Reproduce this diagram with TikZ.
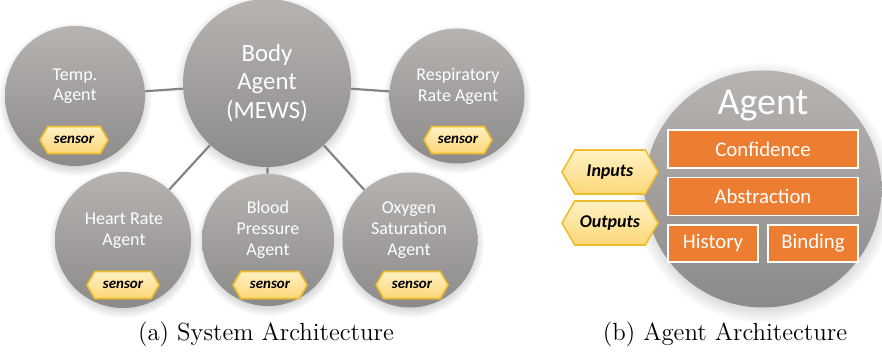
\documentclass[tikz,border=0pt]{standalone}
\usepackage{fontspec}
\newfontfamily\carlito{Carlito}
\usetikzlibrary{shapes.symbols, shadows, positioning}

\definecolor{AgentTop}{HTML}{B6B3B1}
\definecolor{AgentBot}{HTML}{8D8B8A}
\definecolor{LinkGray}{HTML}{858483}
\definecolor{SensorTop}{HTML}{FFF1C4}
\definecolor{SensorBot}{HTML}{FDD778}
\definecolor{SensorLine}{HTML}{EFBE2C}
\definecolor{PartOrange}{HTML}{ED7D31}

\tikzset{
    agent/.style={circle, inner sep=0pt, top color=AgentTop, bottom color=AgentBot,
        circular drop shadow={shadow xshift=0pt, shadow yshift=-1.5pt, opacity=0.35}},
    agentlabel/.style={text=white, align=center, font=\carlito\fontsize{9}{10.5}\selectfont},
    sensorbox/.style={signal, signal to=east and west, signal pointer angle=120,
        draw=SensorLine, thick, top color=SensorTop, bottom color=SensorBot, inner sep=0pt,
        font=\carlito\bfseries\itshape\fontsize{7.5}{9}\selectfont},
    link/.style={draw=LinkGray, line width=1.1pt},
    part/.style={draw=white, line width=0.6pt, fill=PartOrange, text=white, inner sep=0pt,
        font=\carlito\fontsize{10.4}{12}\selectfont},
    caption/.style={font=\fontsize{12.4}{14}\selectfont}
}

\begin{document}
\begin{tikzpicture}[x=0.5pt, y=-0.5pt]
    \useasboundingbox (0, 0) rectangle (882, 356);

    % (a) system architecture
    \node (body) at (267, 83)[agent, minimum size=84pt] {};
    \node (temp) at (75, 96)[agent, minimum size=70pt] {};
    \node (resp) at (457, 96)[agent, minimum size=67.5pt] {};
    \node (heart) at (123, 240)[agent, minimum size=68pt] {};
    \node (blood) at (268, 240)[agent, minimum size=66pt] {};
    \node (oxygen) at (410, 240)[agent, minimum size=67.5pt] {};

    \draw[link] (body) -- (temp);
    \draw[link] (body) -- (resp);
    \draw[link] (body) -- (heart);
    \draw[link] (body) -- (blood);
    \draw[link] (body) -- (oxygen);

    \node (bodytext) at (267, 83)[agentlabel, font=\carlito\fontsize{12.4}{14.3}\selectfont] {Body\\Agent\\(MEWS)};
    \node (temptext) at (75, 86)[agentlabel, font=\carlito\fontsize{9}{9.8}\selectfont] {Temp.\\Agent};
    \node (resptext) at (458, 86)[agentlabel] {Respiratory\\Rate Agent};
    \node (hearttext) at (124, 231)[agentlabel] {Heart Rate\\Agent};
    \node (bloodtext) at (268, 230)[agentlabel] {Blood\\Pressure\\Agent};
    \node (oxygentext) at (409, 230)[agentlabel] {Oxygen\\Saturation\\Agent};

    \node (tempsensor) at (74, 140)[sensorbox, minimum width=34pt, minimum height=13.5pt] {sensor};
    \node (respsensor) at (458, 140)[sensorbox, minimum width=34pt, minimum height=13.5pt] {sensor};
    \node (heartsensor) at (123, 285)[sensorbox, minimum width=36pt, minimum height=13.5pt] {sensor};
    \node (bloodsensor) at (270, 285)[sensorbox, minimum width=37pt, minimum height=13.5pt] {sensor};
    \node (oxygensensor) at (412, 285)[sensorbox, minimum width=36pt, minimum height=13.5pt] {sensor};

    \node (capa) at (266, 334)[caption] {(a) System Architecture};

    % (b) agent architecture
    \node (single) at (763, 189)[agent, minimum size=118.5pt] {};
    \node (singletext) at (763, 106)[agentlabel, font=\carlito\fontsize{19}{22}\selectfont] {Agent};

    \node (confidence) at (763, 149)[part, minimum width=95pt, minimum height=19pt] {Confidence};
    \node (abstraction) at (763, 196.5)[part, minimum width=95pt, minimum height=19pt] {Abstraction};
    \node (history) at (713, 243.5)[part, minimum width=45pt, minimum height=18.5pt] {History};
    \node (binding) at (813, 243.5)[part, minimum width=45pt, minimum height=18.5pt] {Binding};

    \node (inputs) at (610, 172)[sensorbox, minimum width=48pt, minimum height=22pt, font=\carlito\bfseries\itshape\fontsize{9}{11}\selectfont] {Inputs};
    \node (outputs) at (610, 223)[sensorbox, minimum width=48pt, minimum height=22pt, font=\carlito\bfseries\itshape\fontsize{9}{11}\selectfont] {Outputs};

    \node (capb) at (725, 334)[caption] {(b) Agent Architecture};
\end{tikzpicture}
\end{document}
